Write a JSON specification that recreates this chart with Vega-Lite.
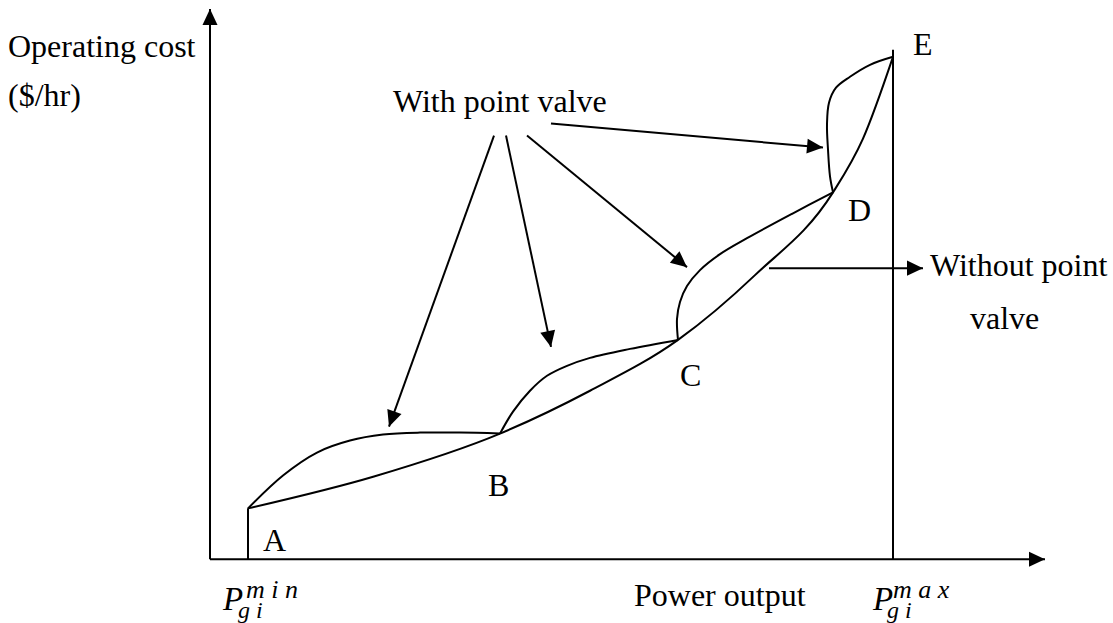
{
  "$schema": "https://vega.github.io/schema/vega-lite/v6.json",
  "width": 1113,
  "height": 623,
  "autosize": {"type": "fit", "contains": "padding"},
  "padding": 0,
  "background": "white",
  "config": {"view": {"stroke": null}},
  "datasets": {
    "mainCurve": [
      {"x": 38, "y": 51},
      {"x": 164, "y": 83},
      {"x": 290, "y": 126},
      {"x": 380, "y": 169},
      {"x": 468, "y": 220},
      {"x": 545, "y": 285},
      {"x": 623, "y": 368},
      {"x": 653, "y": 422},
      {"x": 683, "y": 504}
    ],
    "curves": [
      {"series": "AB", "order": 1, "x": 38, "y": 51},
      {"series": "AB", "order": 2, "x": 73, "y": 84},
      {"series": "AB", "order": 3, "x": 107, "y": 107},
      {"series": "AB", "order": 4, "x": 140, "y": 119},
      {"series": "AB", "order": 5, "x": 173, "y": 125},
      {"series": "AB", "order": 6, "x": 210, "y": 127},
      {"series": "AB", "order": 7, "x": 250, "y": 127},
      {"series": "AB", "order": 8, "x": 290, "y": 126},
      {"series": "BC", "order": 1, "x": 290, "y": 126},
      {"series": "BC", "order": 2, "x": 303, "y": 148},
      {"series": "BC", "order": 3, "x": 320, "y": 169},
      {"series": "BC", "order": 4, "x": 337, "y": 184},
      {"series": "BC", "order": 5, "x": 357, "y": 194},
      {"series": "BC", "order": 6, "x": 380, "y": 202},
      {"series": "BC", "order": 7, "x": 420, "y": 211},
      {"series": "BC", "order": 8, "x": 468, "y": 220},
      {"series": "CD", "order": 1, "x": 468, "y": 220},
      {"series": "CD", "order": 2, "x": 467, "y": 241},
      {"series": "CD", "order": 3, "x": 470, "y": 258},
      {"series": "CD", "order": 4, "x": 477, "y": 274},
      {"series": "CD", "order": 5, "x": 490, "y": 290},
      {"series": "CD", "order": 6, "x": 510, "y": 306},
      {"series": "CD", "order": 7, "x": 537, "y": 322},
      {"series": "CD", "order": 8, "x": 583, "y": 347},
      {"series": "CD", "order": 9, "x": 623, "y": 368},
      {"series": "DE", "order": 1, "x": 623, "y": 368},
      {"series": "DE", "order": 2, "x": 620, "y": 384},
      {"series": "DE", "order": 3, "x": 618, "y": 411},
      {"series": "DE", "order": 4, "x": 617, "y": 436},
      {"series": "DE", "order": 5, "x": 619, "y": 458},
      {"series": "DE", "order": 6, "x": 626, "y": 473},
      {"series": "DE", "order": 7, "x": 640, "y": 484},
      {"series": "DE", "order": 8, "x": 660, "y": 496},
      {"series": "DE", "order": 9, "x": 683, "y": 504}
    ],
    "arrows": [
      {"name": "yaxis", "x": 0, "y": 0, "x2": 0, "y2": 552},
      {"name": "xaxis", "x": 0, "y": 0, "x2": 835, "y2": 0},
      {"name": "toAB", "x": 284, "y": 425, "x2": 179, "y2": 133},
      {"name": "toBC", "x": 296, "y": 425, "x2": 341, "y2": 213},
      {"name": "toCD", "x": 317, "y": 425, "x2": 477, "y2": 293},
      {"name": "toDE", "x": 341, "y": 437, "x2": 613, "y2": 413},
      {"name": "without", "x": 559, "y": 292, "x2": 713, "y2": 292}
    ],
    "lines": [
      {"name": "Pmin", "x": 38, "y": 0, "x2": 38, "y2": 51},
      {"name": "Pmax", "x": 683, "y": 0, "x2": 683, "y2": 511}
    ],
    "labels": [
      {"label": "Operating cost", "x": -202, "y": 504},
      {"label": "($/hr)", "x": -202, "y": 455},
      {"label": "With point valve", "x": 183, "y": 449},
      {"label": "Without point", "x": 720, "y": 284},
      {"label": "valve", "x": 760, "y": 231},
      {"label": "E", "x": 703, "y": 506},
      {"label": "D", "x": 638, "y": 339},
      {"label": "C", "x": 470, "y": 174},
      {"label": "B", "x": 278, "y": 63},
      {"label": "A", "x": 53, "y": 8},
      {"label": "Power output", "x": 424, "y": -47}
    ],
    "mathP": [
      {"label": "P", "x": 13, "y": -51},
      {"label": "P", "x": 663, "y": -51}
    ],
    "mathSup": [
      {"label": "m i n", "x": 36, "y": -39},
      {"label": "m a x", "x": 683, "y": -39}
    ],
    "mathSub": [
      {"label": "g i", "x": 28, "y": -59},
      {"label": "g i", "x": 677, "y": -59}
    ]
  },
  "layer": [
    {
      "data": {"name": "mainCurve"},
      "mark": {"type": "line", "interpolate": "monotone", "color": "black", "strokeWidth": 2},
      "encoding": {
        "x": {"field": "x", "type": "quantitative", "scale": {"domain": [-210, 903], "nice": false, "zero": false}, "axis": null},
        "y": {"field": "y", "type": "quantitative", "scale": {"domain": [-62, 561], "nice": false, "zero": false}, "axis": null}
      }
    },
    {
      "data": {"name": "curves"},
      "mark": {"type": "line", "interpolate": "catmull-rom", "color": "black", "strokeWidth": 2},
      "encoding": {
        "x": {"field": "x", "type": "quantitative", "scale": {"domain": [-210, 903], "nice": false, "zero": false}, "axis": null},
        "y": {"field": "y", "type": "quantitative", "scale": {"domain": [-62, 561], "nice": false, "zero": false}, "axis": null},
        "detail": {"field": "series", "type": "nominal"},
        "order": {"field": "order", "type": "quantitative"}
      }
    },
    {
      "data": {"name": "lines"},
      "mark": {"type": "rule", "color": "black", "strokeWidth": 2},
      "encoding": {
        "x": {"field": "x", "type": "quantitative", "scale": {"domain": [-210, 903], "nice": false, "zero": false}, "axis": null},
        "y": {"field": "y", "type": "quantitative", "scale": {"domain": [-62, 561], "nice": false, "zero": false}, "axis": null},
        "x2": {"field": "x2"},
        "y2": {"field": "y2"}
      }
    },
    {
      "data": {"name": "arrows"},
      "mark": {"type": "rule", "color": "black", "strokeWidth": 2},
      "encoding": {
        "x": {"field": "x", "type": "quantitative", "scale": {"domain": [-210, 903], "nice": false, "zero": false}, "axis": null},
        "y": {"field": "y", "type": "quantitative", "scale": {"domain": [-62, 561], "nice": false, "zero": false}, "axis": null},
        "x2": {"field": "x2"},
        "y2": {"field": "y2"}
      }
    },
    {
      "data": {"name": "arrows"},
      "transform": [
        {"calculate": "atan2(datum.x2 - datum.x, datum.y2 - datum.y) * 180 / PI", "as": "angle"}
      ],
      "mark": {"type": "point", "shape": "M0,0L-0.47,1L0.47,1Z", "filled": true, "size": 1024, "color": "black", "opacity": 1, "strokeWidth": 0},
      "encoding": {
        "x": {"field": "x2", "type": "quantitative", "scale": {"domain": [-210, 903], "nice": false, "zero": false}, "axis": null},
        "y": {"field": "y2", "type": "quantitative", "scale": {"domain": [-62, 561], "nice": false, "zero": false}, "axis": null},
        "angle": {"field": "angle", "type": "quantitative", "scale": null}
      }
    },
    {
      "data": {"name": "labels"},
      "mark": {"type": "text", "align": "left", "baseline": "alphabetic", "font": "Liberation Serif", "fontSize": 32, "color": "black"},
      "encoding": {
        "x": {"field": "x", "type": "quantitative", "scale": {"domain": [-210, 903], "nice": false, "zero": false}, "axis": null},
        "y": {"field": "y", "type": "quantitative", "scale": {"domain": [-62, 561], "nice": false, "zero": false}, "axis": null},
        "text": {"field": "label", "type": "nominal"}
      }
    },
    {
      "data": {"name": "mathP"},
      "mark": {"type": "text", "align": "left", "baseline": "alphabetic", "font": "Liberation Serif", "fontStyle": "italic", "fontSize": 33, "color": "black"},
      "encoding": {
        "x": {"field": "x", "type": "quantitative", "scale": {"domain": [-210, 903], "nice": false, "zero": false}, "axis": null},
        "y": {"field": "y", "type": "quantitative", "scale": {"domain": [-62, 561], "nice": false, "zero": false}, "axis": null},
        "text": {"field": "label", "type": "nominal"}
      }
    },
    {
      "data": {"name": "mathSup"},
      "mark": {"type": "text", "align": "left", "baseline": "alphabetic", "font": "Liberation Serif", "fontStyle": "italic", "fontSize": 26, "color": "black"},
      "encoding": {
        "x": {"field": "x", "type": "quantitative", "scale": {"domain": [-210, 903], "nice": false, "zero": false}, "axis": null},
        "y": {"field": "y", "type": "quantitative", "scale": {"domain": [-62, 561], "nice": false, "zero": false}, "axis": null},
        "text": {"field": "label", "type": "nominal"}
      }
    },
    {
      "data": {"name": "mathSub"},
      "mark": {"type": "text", "align": "left", "baseline": "alphabetic", "font": "Liberation Serif", "fontStyle": "italic", "fontSize": 24, "color": "black"},
      "encoding": {
        "x": {"field": "x", "type": "quantitative", "scale": {"domain": [-210, 903], "nice": false, "zero": false}, "axis": null},
        "y": {"field": "y", "type": "quantitative", "scale": {"domain": [-62, 561], "nice": false, "zero": false}, "axis": null},
        "text": {"field": "label", "type": "nominal"}
      }
    }
  ]
}
